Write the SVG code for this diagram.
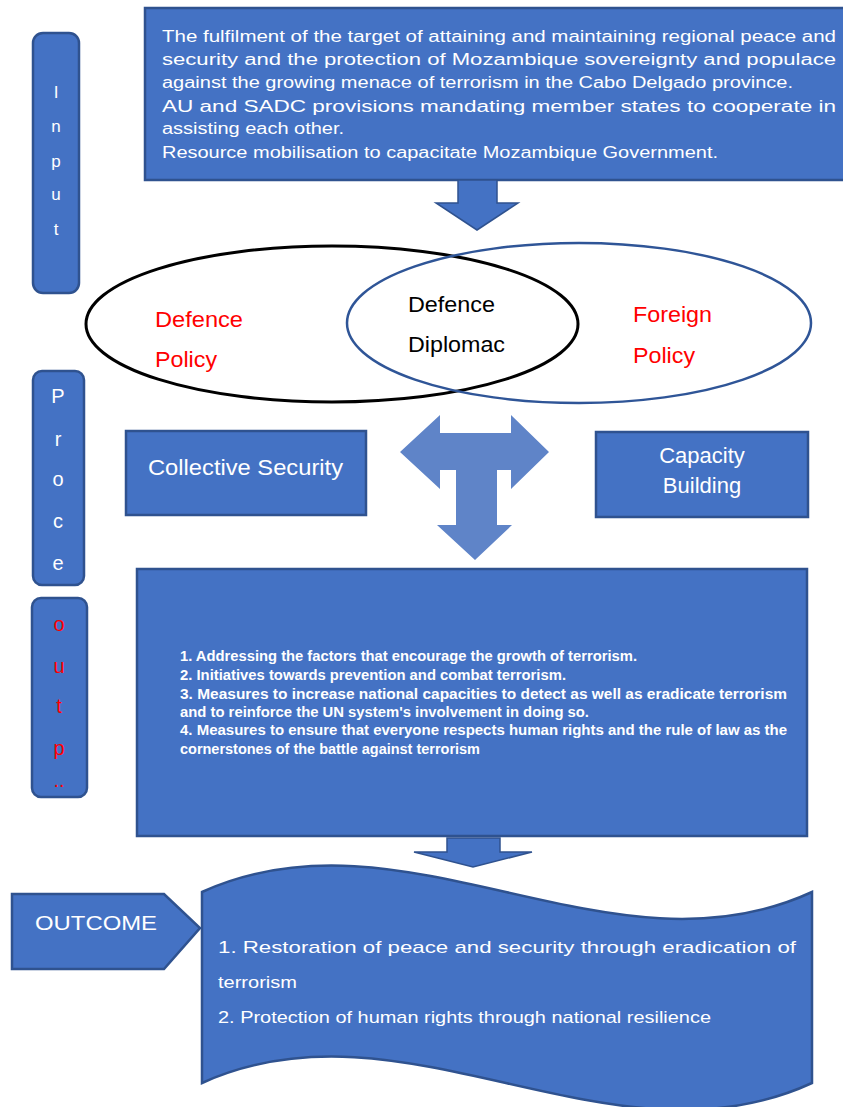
<svg xmlns="http://www.w3.org/2000/svg" width="843" height="1107" viewBox="0 0 843 1107">
<style>
.box{fill:#4472C4;stroke:#2F528F;stroke-width:2.5}
.arr{fill:#4472C4;stroke:#2F528F;stroke-width:1.5}
.t{font-family:"Liberation Sans",Arial,sans-serif;fill:#fff}
.red{fill:#FF0000}
.blk{fill:#000}
.ctr{text-anchor:middle}
</style>
<rect width="843" height="1107" fill="#fff"/>
<g id="input">
<rect class="box" x="33" y="33" width="46" height="260" rx="10"/>
<g class="t ctr" font-size="17">
<text x="56" y="98">I</text><text x="56" y="132">n</text><text x="56" y="167">p</text><text x="56" y="200">u</text><text x="56" y="235">t</text>
</g>
</g>
<g id="topbox">
<rect class="box" x="145" y="8" width="710" height="172"/>
<g class="t" font-size="16">
<text x="162" y="42" textLength="674" lengthAdjust="spacingAndGlyphs">The fulfilment of the target of attaining and maintaining regional peace and</text>
<text x="162" y="65" textLength="674" lengthAdjust="spacingAndGlyphs">security and the protection of Mozambique sovereignty and populace</text>
<text x="162" y="88" textLength="631" lengthAdjust="spacingAndGlyphs">against the growing menace of terrorism in the Cabo Delgado province.</text>
<text x="162" y="112" textLength="674" lengthAdjust="spacingAndGlyphs">AU and SADC provisions mandating member states to cooperate in</text>
<text x="162" y="134" textLength="182" lengthAdjust="spacingAndGlyphs">assisting each other.</text>
<text x="162" y="158" textLength="556" lengthAdjust="spacingAndGlyphs">Resource mobilisation to capacitate Mozambique Government.</text>
</g>
</g>
<g id="venn">
<ellipse cx="332" cy="324" rx="246" ry="78" fill="none" stroke="#000" stroke-width="3"/>
<ellipse cx="579" cy="323" rx="232" ry="80" fill="none" stroke="#2F5597" stroke-width="2.5"/>
<g class="t red" font-size="22">
<text x="155" y="327" textLength="88" lengthAdjust="spacingAndGlyphs">Defence</text>
<text x="155" y="367" textLength="62" lengthAdjust="spacingAndGlyphs">Policy</text>
<text x="633" y="322" textLength="79" lengthAdjust="spacingAndGlyphs">Foreign</text>
<text x="633" y="363" textLength="62" lengthAdjust="spacingAndGlyphs">Policy</text>
</g>
<g class="t blk" font-size="22">
<text x="408" y="312" textLength="87" lengthAdjust="spacingAndGlyphs">Defence</text>
<text x="408" y="352" textLength="97" lengthAdjust="spacingAndGlyphs">Diplomac</text>
</g>
</g>
<g id="process">
<rect class="box" x="33" y="371" width="51" height="214" rx="9"/>
<g class="t ctr" font-size="20">
<text x="58" y="403">P</text><text x="58" y="446">r</text><text x="58" y="486">o</text><text x="58" y="528">c</text><text x="58" y="570">e</text>
</g>
</g>
<g id="output">
<rect class="box" x="32" y="598" width="55" height="199" rx="9"/>
<g class="t red ctr" font-size="20">
<text x="59" y="631">o</text><text x="59" y="673">u</text><text x="59" y="713">t</text><text x="59" y="755">p</text><text x="59" y="787">..</text>
</g>
</g>
<g id="collective">
<rect class="box" x="126" y="431" width="240" height="84"/>
<text class="t" x="148" y="475" font-size="22" textLength="195" lengthAdjust="spacingAndGlyphs">Collective Security</text>
</g>
<g id="capacity">
<rect class="box" x="596" y="432" width="212" height="85"/>
<g class="t ctr" font-size="22">
<text x="702" y="463">Capacity</text>
<text x="702" y="493">Building</text>
</g>
</g>
<g id="outputbox">
<rect class="box" x="137" y="569" width="670" height="267"/>
<g class="t" font-size="14" font-weight="bold">
<text x="180" y="661" textLength="457" lengthAdjust="spacingAndGlyphs">1. Addressing the factors that encourage the growth of terrorism.</text>
<text x="180" y="680" textLength="386" lengthAdjust="spacingAndGlyphs">2. Initiatives towards prevention and combat terrorism.</text>
<text x="180" y="699" textLength="607" lengthAdjust="spacingAndGlyphs">3. Measures to increase national capacities to detect as well as eradicate terrorism</text>
<text x="180" y="717" textLength="409" lengthAdjust="spacingAndGlyphs">and to reinforce the UN system's involvement in doing so.</text>
<text x="180" y="735" textLength="607" lengthAdjust="spacingAndGlyphs">4. Measures to ensure that everyone respects human rights and the rule of law as the</text>
<text x="180" y="754" textLength="300" lengthAdjust="spacingAndGlyphs">cornerstones of the battle against terrorism</text>
</g>
</g>
<g id="outcome">
<polygon class="box" points="12,894 164,894 200,928 164,969 12,969"/>
<text class="t" x="35" y="930" font-size="21" textLength="122" lengthAdjust="spacingAndGlyphs">OUTCOME</text>
</g>
<g id="result">
<path class="box" d="M202,892 C405,800 610,985 812,892 L812,1083 C610,1176 405,991 202,1083 Z"/>
<g class="t" font-size="17">
<text x="218" y="953" textLength="578" lengthAdjust="spacingAndGlyphs">1. Restoration of peace and security through eradication of</text>
<text x="218" y="988" textLength="79" lengthAdjust="spacingAndGlyphs">terrorism</text>
<text x="218" y="1023" textLength="493" lengthAdjust="spacingAndGlyphs">2. Protection of human rights through national resilience</text>
</g>
</g>
<g id="connectors">
<polygon class="arr" points="458,180 497,180 497,203 518,203 477,230 436,203 458,203"/>
<polygon fill="#5F84C8" points="400,452 440,415 440,433 511,433 511,415 549,452 511,489 511,470 497,470 497,525 512,525 475,560 437,525 456,525 456,470 440,470 440,489"/>
<polygon class="arr" points="447,838 500,838 500,852 532,852 473,867 414,852 447,852"/>
</g>
</svg>
